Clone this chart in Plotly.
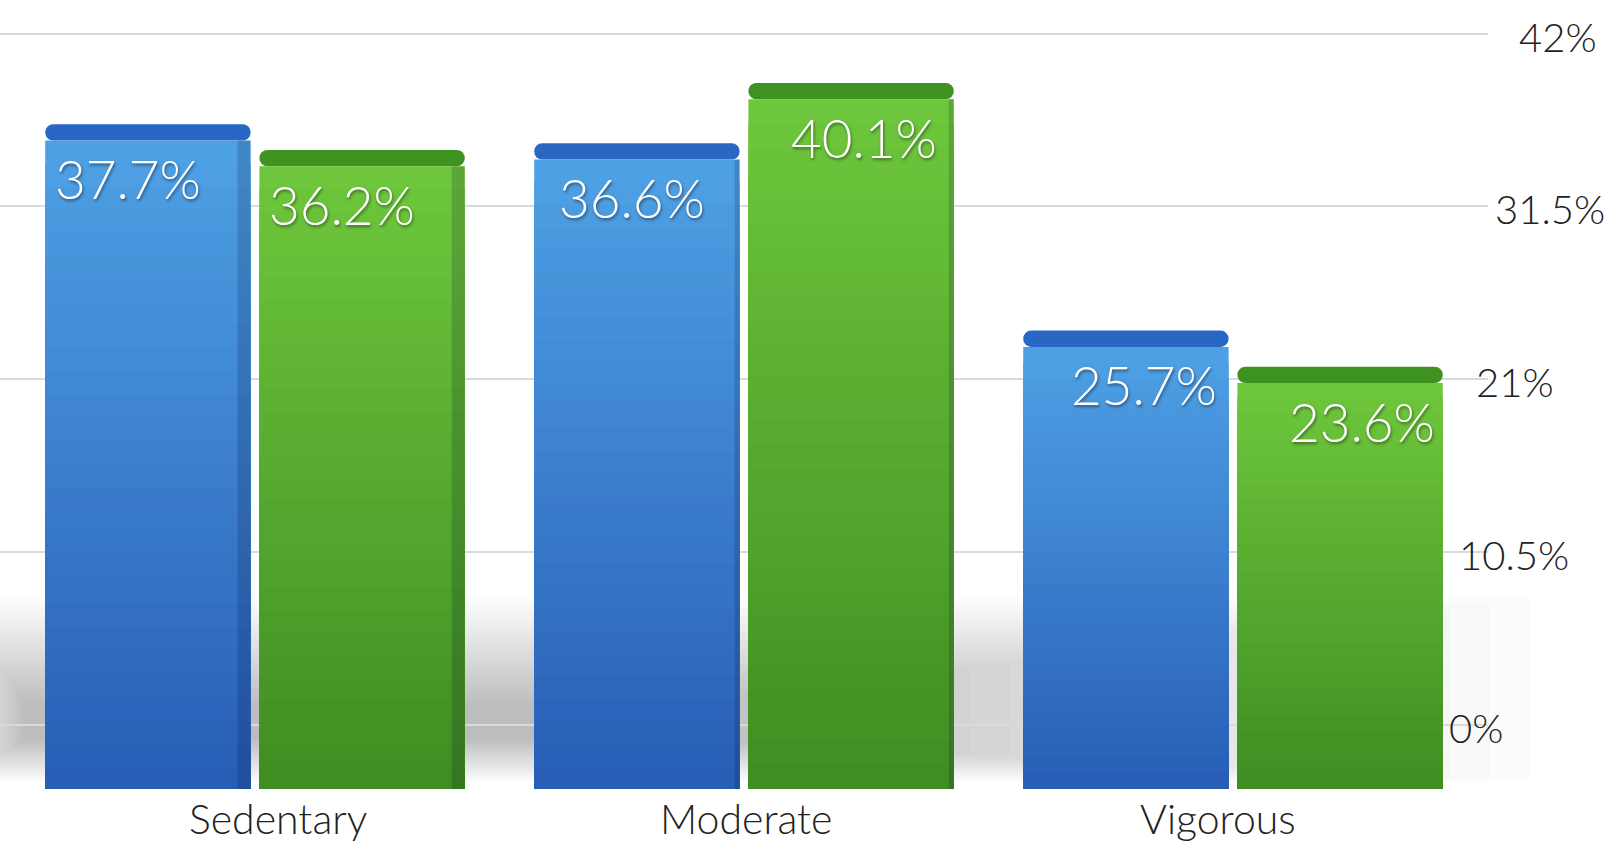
import plotly.graph_objects as go

# ---- data ----
categories = ["Sedentary", "Moderate", "Vigorous"]
series_a = [37.7, 36.6, 25.7]   # blue series
series_b = [36.2, 40.1, 23.6]   # green series
tick_vals = [0, 10.5, 21, 31.5, 42]
tick_text = ["0%", "10.5%", "21%", "31.5%", "42%"]

# ---- style ----
W, H = 1621, 845
PLOT_H = 789
FONT = "Lato, Liberation Sans, sans-serif"
blue_top, blue_bot, blue_cap = (78, 160, 228), (40, 94, 182), (40, 104, 196)
green_top, green_bot, green_cap = (110, 198, 60), (62, 142, 34), (62, 146, 32)
N_SEG = 28
offset = 0.219
bar_w = 0.42
cap_h = 0.95
px_per_unit = 489
side_px = [13, 5, 0]                            # visible side face width per group (perspective)
cat_shift = [23, 2, -15]                        # perspective shift of category labels (px)
value_shift = [-20, -5, 18, -20, 13, 22]        # perspective shift of value labels (px)
tick_label_x = [1447, 1457, 1474, 1493, 1517]   # perspective-shifted label positions (px)


def mix(c1, c2, t):
    return "rgb(%d,%d,%d)" % tuple(round(a + (b - a) * t) for a, b in zip(c1, c2))


fig = go.Figure()

n = len(categories)
xs = [i - offset for i in range(n)] + [i + offset for i in range(n)]
vals = series_a + series_b
tops = [blue_top] * n + [green_top] * n
bots = [blue_bot] * n + [green_bot] * n
caps = [blue_cap] * n + [green_cap] * n
sides = side_px + side_px

# invisible trace to carry the perspective gridline axis
fig.add_trace(go.Scatter(x=[0] * len(tick_vals), y=tick_vals, yaxis="y2", mode="markers",
                         marker=dict(opacity=0), hoverinfo="skip", showlegend=False))

# top caps (3D top face)
fig.add_trace(go.Bar(x=xs, y=[cap_h] * len(xs), base=vals, width=bar_w,
                     marker=dict(color=["rgb(%d,%d,%d)" % c for c in caps], line=dict(width=0),
                                 cornerradius=8),
                     hoverinfo="skip", showlegend=False))

# front faces with vertical gradient (nested bars, largest drawn first)
for k in range(N_SEG, 0, -1):
    t = (k - 1) / (N_SEG - 1)
    fig.add_trace(go.Bar(
        x=xs, y=[v * k / N_SEG for v in vals], width=bar_w,
        marker=dict(color=[mix(b, tp, t) for b, tp in zip(bots, tops)], line=dict(width=0)),
        hoverinfo="skip", showlegend=False))

# darker side faces
fig.add_trace(go.Bar(
    x=[x + bar_w / 2 - s / px_per_unit / 2 for x, s in zip(xs, sides)],
    y=vals, width=[max(s, 0.001) / px_per_unit for s in sides],
    marker=dict(color="rgba(0,0,30,0.16)", line=dict(width=0)),
    hoverinfo="skip", showlegend=False))

annotations = []
# value labels
for x, v, s in zip(xs, vals, value_shift):
    annotations.append(dict(
        x=x, y=v, xref="x", yref="y", xshift=s, yshift=-38, showarrow=False,
        text="%.1f%%" % v, xanchor="center", yanchor="middle",
        font=dict(family=FONT, size=53, color="white", weight=300,
                  shadow="1px 2px 3px rgba(0,0,0,0.45)")))

# category labels
for i, (c, s) in enumerate(zip(categories, cat_shift)):
    annotations.append(dict(
        x=i, y=0, xref="x", yref="y", xshift=s, yshift=-29, showarrow=False,
        text=c, xanchor="center", yanchor="middle",
        font=dict(family=FONT, size=41, color="#222222", weight=300)))

# right-hand tick labels (perspective shifted)
for v, t, px in zip(tick_vals, tick_text, tick_label_x):
    annotations.append(dict(
        x=px / W, y=v, xref="paper", yref="y2", yshift=-3, showarrow=False,
        text=t, xanchor="left", yanchor="middle",
        font=dict(family=FONT, size=40, color="#222222", weight=300)))

# soft floor shadow (stacked translucent rectangles, darker toward the left)
shapes = []
N_SH = 22
for i in range(N_SH):
    x0, x1 = -40 + i * 3, 1530 - i * 40
    y0, y1 = 598 + i * 5, 782 - i * 2
    shapes.append(dict(type="rect", xref="paper", yref="paper", layer="below",
                       x0=x0 / W, x1=x1 / W, y0=(PLOT_H - y1) / PLOT_H, y1=(PLOT_H - y0) / PLOT_H,
                       line=dict(width=0), fillcolor="rgba(0,0,0,0.012)"))

fig.update_layout(
    width=W, height=H,
    margin=dict(l=0, r=0, t=0, b=H - PLOT_H),
    paper_bgcolor="white", plot_bgcolor="rgba(0,0,0,0)",
    barmode="overlay",
    showlegend=False,
    annotations=annotations,
    shapes=shapes,
    xaxis=dict(domain=[0, 1488 / W], range=[-0.5215, 2.5215], showticklabels=False,
               showgrid=False, zeroline=False, showline=False, ticks="", fixedrange=True),
    yaxis=dict(range=[0, PLOT_H / 17.2], showgrid=False, zeroline=False, showticklabels=False,
               showline=False, fixedrange=True),
    yaxis2=dict(overlaying="y", range=[-3.91, 44.05], tickvals=tick_vals, showticklabels=False,
                showgrid=True, gridcolor="#dadada", gridwidth=2, zeroline=False, showline=False,
                fixedrange=True),
)

fig.write_html("out.html")
